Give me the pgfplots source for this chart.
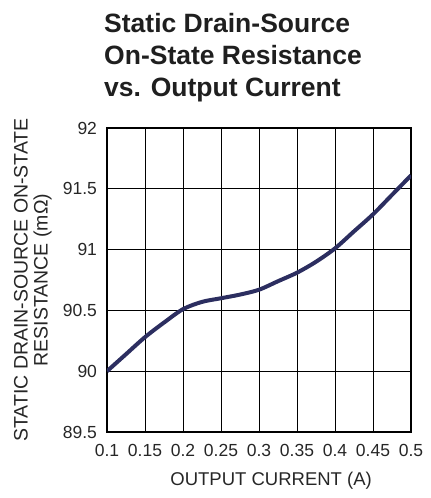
\documentclass[border=0pt]{standalone}
\usepackage{pgfplots}
\pgfplotsset{compat=1.18}
\usepackage{fontspec}
\setmainfont{Liberation Sans}
\definecolor{curve}{RGB}{44,46,96}
\begin{document}
\begin{tikzpicture}
\path (-107pt,-66pt) rectangle (324pt,432pt);
\begin{axis}[
  scale only axis,
  width=304pt, height=304pt,
  xmin=0.1, xmax=0.5, ymin=89.5, ymax=92,
  xtick={0.1,0.15,0.2,0.25,0.3,0.35,0.4,0.45,0.5},
  ytick={89.5,90,90.5,91,91.5,92},
  /pgf/number format/assume math mode=true,
  grid=major,
  grid style={black, line width=0.8pt},
  axis line style={black, line width=1.3pt},
  major tick length=0pt,
  tick label style={font=\fontsize{17.5}{21}\selectfont, text=black!85},
  xticklabel style={yshift=-8.5pt},
  yticklabel style={xshift=-6.5pt},
  xlabel={OUTPUT CURRENT (A)},
  ylabel={STATIC DRAIN-SOURCE ON-STATE\\RESISTANCE (mΩ)},
  label style={text=black!85, inner sep=0pt},
  xlabel style={font=\fontsize{18.5}{20.5}\selectfont, at={(axis description cs:0.54,-0.13)}, anchor=north},
  ylabel style={font=\fontsize{19.5}{20}\selectfont, at={(axis description cs:-0.181,0.5)}, anchor=south, align=center},
  title={Static Drain-Source\\On-State Resistance\\vs. Output Current},
  title style={at={(axis description cs:0,1)}, anchor=south west, align=left,
    font=\fontsize{26.5}{32}\selectfont\bfseries, text=black!88, inner sep=0pt,
    xshift=-3pt, yshift=20pt},
]
\addplot[curve, line width=4pt, smooth] coordinates {
(0.100,90.00) (0.125,90.14) (0.150,90.28) (0.175,90.40) (0.200,90.51)
(0.225,90.57) (0.250,90.60) (0.275,90.63) (0.300,90.67) (0.325,90.74)
(0.350,90.81) (0.375,90.90) (0.400,91.01) (0.425,91.15) (0.450,91.29)
(0.475,91.45) (0.500,91.61)
};
\end{axis}
\end{tikzpicture}
\end{document}
